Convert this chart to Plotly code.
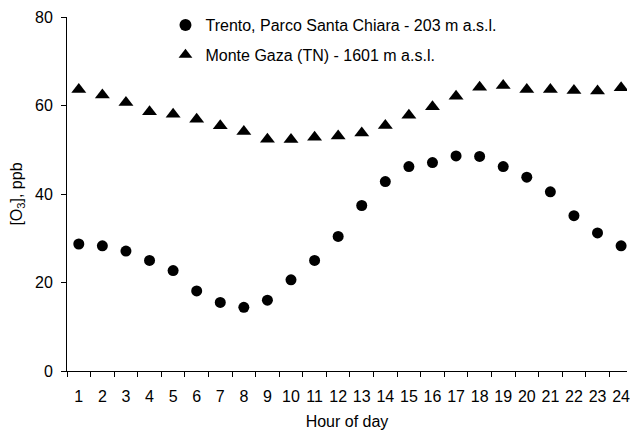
import plotly.graph_objects as go

# Hour of day (1..24)
hours = list(range(1, 25))

# Mean hourly ozone concentration, ppb
trento = [28.7, 28.3, 27.1, 25.0, 22.7, 18.1, 15.5, 14.4, 16.0, 20.6, 25.0, 30.4,
          37.4, 42.8, 46.2, 47.1, 48.6, 48.5, 46.2, 43.8, 40.5, 35.1, 31.2, 28.3]
monte_gaza = [63.6, 62.4, 60.7, 58.6, 58.0, 56.9, 55.4, 54.1, 52.4, 52.3, 52.8, 53.1,
              53.8, 55.5, 57.8, 59.7, 62.1, 64.1, 64.5, 63.6, 63.6, 63.4, 63.3, 64.0]

y_ticks = [0, 20, 40, 60, 80]

FONT = "Arial, Liberation Sans, sans-serif"
x_range = [0.5, 24.25]

fig = go.Figure()
fig.add_trace(go.Scatter(
    x=hours, y=trento, mode="markers",
    name="Trento, Parco Santa Chiara - 203 m a.s.l.",
    legendgroup="a",
    marker=dict(symbol="circle", size=11, color="black"),
))
fig.add_trace(go.Scatter(
    x=hours, y=monte_gaza, mode="markers",
    name="Monte Gaza (TN) - 1601 m a.s.l.",
    legendgroup="b",
    marker=dict(symbol="triangle-up", size=13, color="black"),
))

fig.update_layout(
    width=630, height=430,
    margin=dict(l=67, r=0, t=17, b=59),
    paper_bgcolor="white", plot_bgcolor="white",
    font=dict(family=FONT, size=16, color="black"),
    showlegend=True,
    legend=dict(
        x=(166 - 67) / 563, y=1.025, xanchor="left", yanchor="top",
        bgcolor="rgba(0,0,0,0)", font=dict(size=16),
        tracegroupgap=6, itemsizing="constant",
    ),
    xaxis=dict(
        range=x_range, tickmode="array", tickvals=hours,
        ticktext=[str(h) for h in hours], ticks="", showgrid=False,
        zeroline=False, showline=True, linecolor="black", linewidth=1,
        tickfont=dict(size=16), ticklabelstandoff=11,
        ticklabeloverflow="allow",
        title=dict(text="Hour of day", font=dict(size=16), standoff=12),
    ),
    xaxis2=dict(
        range=x_range, overlaying="x", side="bottom", anchor="y",
        tickmode="array", tickvals=[h + 0.5 for h in range(0, 25)],
        showticklabels=False, ticks="outside", ticklen=5, tickcolor="black",
        showgrid=False, zeroline=False, showline=False,
    ),
    yaxis=dict(
        range=[0, 80], tickmode="array", tickvals=y_ticks,
        ticks="outside", ticklen=5, tickcolor="black",
        showgrid=False, zeroline=False, showline=True,
        linecolor="black", linewidth=1, tickfont=dict(size=16),
        ticklabelstandoff=5,
        title=dict(text="[O<sub>3</sub>], ppb", font=dict(size=16), standoff=8),
    ),
)

# invisible trace to activate the boundary-tick axis
fig.add_trace(go.Scatter(x=[None], y=[None], xaxis="x2", showlegend=False,
                         hoverinfo="skip"))

fig.write_html("out.html")
